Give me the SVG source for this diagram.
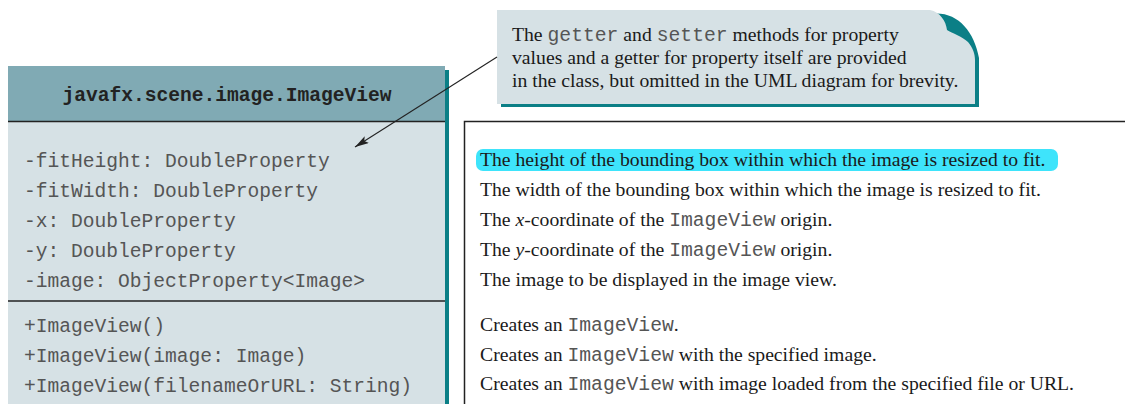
<svg xmlns="http://www.w3.org/2000/svg" width="1125" height="404" viewBox="0 0 1125 404">
<style>
.mono{font-family:"Liberation Mono","Courier New",monospace;font-size:19.6px;fill:#555}
.hdr{font-family:"Liberation Mono","Courier New",monospace;font-size:19.6px;font-weight:bold;fill:#222;text-anchor:middle}
.ser{font-family:"Liberation Serif","Times New Roman",serif;font-size:19.7px;fill:#1a1a1a}
.tm{font-family:"Liberation Mono","Courier New",monospace;font-size:19.7px;fill:#555}
</style>
<defs>
<marker id="ah" viewBox="0 0 14 8" refX="14" refY="4" markerWidth="14" markerHeight="8" markerUnits="userSpaceOnUse" orient="auto">
<path d="M0,0 L14,4 L0,8 L3,4 Z" fill="#222"/>
</marker>
</defs>
<rect width="1125" height="404" fill="#fff"/>

<g id="class-imageview">
<rect x="12" y="70" width="437" height="340" fill="#0b7f86"/>
<rect x="8" y="66" width="437" height="56" fill="#80aab4"/>
<rect x="8" y="122" width="437" height="290" fill="#d6e1e5"/>
<line x1="8" y1="121.5" x2="445" y2="121.5" stroke="#222" stroke-width="1.5"/>
<line x1="8" y1="301" x2="445" y2="301" stroke="#222" stroke-width="1.5"/>
<text class="hdr" x="227" y="101">javafx.scene.image.ImageView</text>
<text class="mono" x="24" y="167">-fitHeight: DoubleProperty</text>
<text class="mono" x="24" y="197">-fitWidth: DoubleProperty</text>
<text class="mono" x="24" y="227">-x: DoubleProperty</text>
<text class="mono" x="24" y="257">-y: DoubleProperty</text>
<text class="mono" x="24" y="287">-image: ObjectProperty&lt;Image&gt;</text>
<text class="mono" x="24" y="332">+ImageView()</text>
<text class="mono" x="24" y="362">+ImageView(image: Image)</text>
<text class="mono" x="24" y="392">+ImageView(filenameOrURL: String)</text>
</g>

<g id="descriptions">
<rect x="464.5" y="121.5" width="700" height="300" fill="#fff" stroke="#222" stroke-width="1.5"/>
<rect x="476" y="149" width="582" height="22" rx="7" fill="#3ee4fb"/>
<text class="ser" x="480" y="166">The height of the bounding box within which the image is resized to fit.</text>
<text class="ser" x="480" y="196">The width of the bounding box within which the image is resized to fit.</text>
<text class="ser" x="480" y="226">The <tspan font-style="italic">x</tspan>-coordinate of the <tspan class="tm">ImageView</tspan> origin.</text>
<text class="ser" x="480" y="256">The <tspan font-style="italic">y</tspan>-coordinate of the <tspan class="tm">ImageView</tspan> origin.</text>
<text class="ser" x="480" y="286">The image to be displayed in the image view.</text>
<text class="ser" x="480" y="331">Creates an <tspan class="tm">ImageView</tspan>.</text>
<text class="ser" x="480" y="361">Creates an <tspan class="tm">ImageView</tspan> with the specified image.</text>
<text class="ser" x="480" y="390">Creates an <tspan class="tm">ImageView</tspan> with image loaded from the specified file or URL.</text>
</g>

<g id="note">
<path d="M501,14 H930 C956,10 974,30 979,58 V107 H501 Z" fill="#0b7f86"/>
<path d="M497,10 H930 C940,12 946,21 947,30 C952,33 963,37 968,42 C973,48 975,54 975,60 V104 H497 Z" fill="#d6e1e5"/>
<text class="ser" x="512" y="41">The <tspan class="tm">getter</tspan> and <tspan class="tm">setter</tspan> methods for property</text>
<text class="ser" x="512" y="64">values and a getter for property itself are provided</text>
<text class="ser" x="512" y="87">in the class, but omitted in the UML diagram for brevity.</text>
</g>

<g id="connectors">
<line x1="497" y1="57" x2="355" y2="147" stroke="#222" stroke-width="1.1" marker-end="url(#ah)"/>
</g>
</svg>
